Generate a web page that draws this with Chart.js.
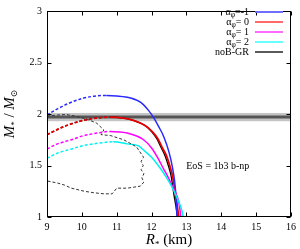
<!DOCTYPE html>
<html><head><meta charset="utf-8">
<script src="https://cdn.jsdelivr.net/npm/chart.js@4/dist/chart.umd.min.js"></script>
<style>html,body{margin:0;padding:0;background:#fff}#wrap{width:300px;height:249px}</style>
</head><body><div id="wrap"><canvas id="c" width="300" height="249"></canvas></div>
<script>
// ---- data ----
const seriesLabels = ["α_φ=-1", "α_φ= 0", "α_φ= 1", "α_φ= 2", "noB-GR"];
const seriesColors = ["#2a2aff", "#e80000", "#ff00ff", "#00f0f0", "#000000"];
const legendColors = ["#6e6eff", "#ff6a6a", "#ff6aff", "#6affff", "#5a5a5a"];
const peakX = [10.7, 10.8, 10.8, 10.9, 10.8];

const blueX = [9.0, 9.3, 9.6, 10.0, 10.4, 10.7, 11.0, 11.4, 11.7, 11.9, 12.05, 12.2, 12.35, 12.5, 12.6, 12.66, 12.7, 12.73];
const blueY = [1.99, 2.05, 2.10, 2.15, 2.175, 2.18, 2.175, 2.155, 2.11, 2.04, 1.97, 1.88, 1.78, 1.63, 1.48, 1.35, 1.2, 1.0];

const redX = [9.0, 9.5, 10.0, 10.4, 10.8, 11.2, 11.5, 11.8, 12.02, 12.18, 12.31, 12.42, 12.52, 12.6, 12.69, 12.74, 12.78];
const redY = [1.80, 1.88, 1.935, 1.96, 1.97, 1.96, 1.935, 1.89, 1.83, 1.76, 1.67, 1.60, 1.50, 1.40, 1.22, 1.10, 1.0];

const magX = [9.0, 9.3, 9.7, 10.0, 10.35, 10.8, 11.3, 11.77, 12.0, 12.2, 12.34, 12.47, 12.57, 12.68, 12.77, 12.81, 12.84];
const magY = [1.66, 1.71, 1.75, 1.785, 1.81, 1.83, 1.815, 1.75, 1.67, 1.56, 1.47, 1.39, 1.32, 1.24, 1.16, 1.08, 1.0];

const cyanX = [9.0, 9.3, 9.7, 10.0, 10.35, 10.9, 11.3, 11.63, 11.77, 12.0, 12.17, 12.34, 12.47, 12.57, 12.7, 12.8, 12.87, 12.91];
const cyanY = [1.57, 1.62, 1.66, 1.69, 1.71, 1.73, 1.71, 1.69, 1.65, 1.58, 1.51, 1.43, 1.36, 1.30, 1.21, 1.13, 1.06, 1.0];

const grX = [9.0, 9.5, 10.0, 10.4, 10.8, 11.2, 11.5, 11.8, 12.0, 12.15, 12.28, 12.38, 12.48, 12.56, 12.64, 12.7, 12.74];
const grY = [1.80, 1.88, 1.935, 1.96, 1.97, 1.96, 1.935, 1.89, 1.83, 1.76, 1.67, 1.60, 1.50, 1.40, 1.22, 1.10, 1.0];

const contourX = [9.0, 9.3, 9.55, 9.8, 10.15, 10.43, 10.63, 10.55, 10.83, 11.2, 11.57, 11.77, 11.70, 11.76, 11.70, 11.78, 11.72, 11.78, 11.68, 11.5, 11.3, 11.0, 10.87, 10.64, 10.35, 10.07, 9.7, 9.5, 9.3, 9.0];
const contourY = [1.98, 1.99, 1.995, 1.98, 1.95, 1.91, 1.845, 1.80, 1.79, 1.75, 1.68, 1.58, 1.54, 1.50, 1.46, 1.42, 1.38, 1.34, 1.30, 1.29, 1.28, 1.28, 1.225, 1.225, 1.235, 1.25, 1.28, 1.31, 1.33, 1.35];

const bandLow = 1.93, bandHigh = 2.01, bandCenter = 1.97;
const xRange = [9, 16], yRange = [1, 3];
const xTickValues = [9, 10, 11, 12, 13, 14, 15, 16];
const yTickValues = [1, 1.5, 2, 2.5, 3];
const yTickLabels = ["1", "1.5", "2", "2.5", "3"];
const eosText = "EoS = 1b3 b-np";
const eosPos = {x: 13.9, y: 1.49};

const SERIF = '"Liberation Serif", "DejaVu Serif", serif';
const pts = (xs, ys) => xs.map((x, i) => ({x: x, y: ys[i]}));

function curve(idx, xs, ys, width) {
  const pk = peakX[idx];
  return {
    label: seriesLabels[idx], data: pts(xs, ys), showLine: true, pointRadius: 0,
    borderColor: seriesColors[idx], borderWidth: width, cubicInterpolationMode: 'monotone', fill: false,
    segment: { borderDash: ctx => (ctx.p1.parsed.x <= pk + 0.001 ? [3, 2] : undefined) }
  };
}

const datasets = [
  {label: 'contour', data: pts(contourX, contourY), showLine: true, pointRadius: 0, borderWidth: 1, borderColor: '#333333', borderDash: [3, 2], tension: 0, fill: false},
  curve(3, cyanX, cyanY, 1.5),
  curve(2, magX, magY, 1.5),
  curve(0, blueX, blueY, 1.5),
  curve(1, redX, redY, 1.8),
  curve(4, grX, grY, 1.3)
];

function drawRich(ctx, label, xRight, yMid, size) {
  let parts;
  const m = label.match(/^(.)_(.)(.*)$/);
  if (m) parts = [[m[1], size, 0], [m[2], size * 0.75, size * 0.3], [m[3], size, 0]];
  else parts = [[label, size, 0]];
  let total = 0;
  parts.forEach(p => { ctx.font = p[1] + 'px ' + SERIF; total += ctx.measureText(p[0]).width; });
  let x = xRight - total;
  ctx.textBaseline = 'middle'; ctx.textAlign = 'left';
  parts.forEach(p => { ctx.font = p[1] + 'px ' + SERIF; ctx.fillText(p[0], x, yMid + p[2]); x += ctx.measureText(p[0]).width; });
}

const decor = {
  id: 'decor',
  beforeDatasetsDraw(chart) {
    const ctx = chart.ctx, a = chart.chartArea, ys = chart.scales.y;
    ctx.save();
    const yh = ys.getPixelForValue(bandHigh), yl = ys.getPixelForValue(bandLow), yc = ys.getPixelForValue(bandCenter);
    ctx.fillStyle = '#c4c4c4';
    ctx.fillRect(a.left, yh, a.right - a.left, yl - yh);
    ctx.strokeStyle = '#555555'; ctx.lineWidth = 3;
    ctx.beginPath(); ctx.moveTo(a.left, yc); ctx.lineTo(a.right, yc); ctx.stroke();
    ctx.restore();
  },
  afterDatasetsDraw(chart) {
    const ctx = chart.ctx, a = chart.chartArea, xs = chart.scales.x, ys = chart.scales.y;
    ctx.save();
    ctx.strokeStyle = '#000'; ctx.lineWidth = 1;
    const L = Math.round(a.left) + 0.5, R = Math.round(a.right) - 0.5, T = Math.round(a.top) + 0.5, B = Math.round(a.bottom) - 0.5;
    ctx.strokeRect(L, T, R - L, B - T);
    ctx.beginPath();
    xTickValues.forEach(v => { const px = Math.round(xs.getPixelForValue(v)) + 0.5; ctx.moveTo(px, B); ctx.lineTo(px, B - 4); ctx.moveTo(px, T); ctx.lineTo(px, T + 4); });
    yTickValues.forEach(v => { const py = Math.round(ys.getPixelForValue(v)) + 0.5; ctx.moveTo(L, py); ctx.lineTo(L + 4, py); ctx.moveTo(R, py); ctx.lineTo(R - 4, py); });
    ctx.stroke();
    // legend
    ctx.fillStyle = '#000';
    seriesLabels.forEach((lab, i) => {
      const y = 12 + i * 10;
      drawRich(ctx, lab, 249, y, 10);
      ctx.strokeStyle = legendColors[i]; ctx.lineWidth = 2;
      ctx.beginPath(); ctx.moveTo(255, y); ctx.lineTo(283, y); ctx.stroke();
    });
    // EoS annotation
    ctx.fillStyle = '#000'; ctx.font = '10px ' + SERIF; ctx.textAlign = 'center'; ctx.textBaseline = 'middle';
    ctx.fillText(eosText, xs.getPixelForValue(eosPos.x), ys.getPixelForValue(eosPos.y));
    // x title: R* (km)
    const cx = (a.left + a.right) / 2, ty = 240;
    ctx.textAlign = 'left'; ctx.textBaseline = 'middle';
    ctx.font = 'italic 15px ' + SERIF; const w1 = ctx.measureText('R').width;
    ctx.font = '9px ' + SERIF; const w2 = ctx.measureText('*').width;
    ctx.font = '15px ' + SERIF; const w3 = ctx.measureText(' (km)').width;
    let x0 = cx - (w1 + w2 + w3) / 2;
    ctx.font = 'italic 15px ' + SERIF; ctx.fillText('R', x0, ty); x0 += w1;
    ctx.font = '9px ' + SERIF; ctx.fillText('*', x0, ty + 5); x0 += w2;
    ctx.font = '15px ' + SERIF; ctx.fillText(' (km)', x0, ty);
    // y title: M* / M⊙
    ctx.save();
    ctx.translate(10, (a.top + a.bottom) / 2); ctx.rotate(-Math.PI / 2);
    const segs = [['M', 'italic 15px ', 0], ['*', '9px ', 5], [' / ', '15px ', 0], ['M', 'italic 15px ', 0], ['⊙', '9px ', 5]];
    let tw = 0; segs.forEach(s => { ctx.font = s[1] + SERIF; tw += ctx.measureText(s[0]).width; });
    let sx = -tw / 2;
    segs.forEach(s => { ctx.font = s[1] + SERIF; ctx.fillText(s[0], sx, s[2]); sx += ctx.measureText(s[0]).width; });
    ctx.restore();
    ctx.restore();
  }
};

new Chart(document.getElementById('c'), {
  type: 'scatter',
  data: { datasets: datasets },
  options: {
    responsive: false, animation: false, devicePixelRatio: 1,
    layout: { padding: { left: 0, right: 6, top: 4, bottom: 0 } },
    plugins: { legend: { display: false }, tooltip: { enabled: false } },
    scales: {
      x: { type: 'linear', min: xRange[0], max: xRange[1],
        ticks: { stepSize: 1, color: '#000', font: { family: SERIF, size: 10 }, padding: 4, maxRotation: 0 },
        grid: { display: false, drawTicks: false }, border: { display: false },
        afterFit: s => { s.height = 32; } },
      y: { type: 'linear', min: yRange[0], max: yRange[1],
        ticks: { stepSize: 0.5, color: '#000', font: { family: SERIF, size: 10 }, padding: 5,
          callback: v => { const i = yTickValues.indexOf(v); return i >= 0 ? yTickLabels[i] : ''; } },
        grid: { display: false, drawTicks: false }, border: { display: false },
        afterFit: s => { s.width = 47; } }
    }
  },
  plugins: [decor]
});
</script></body></html>
